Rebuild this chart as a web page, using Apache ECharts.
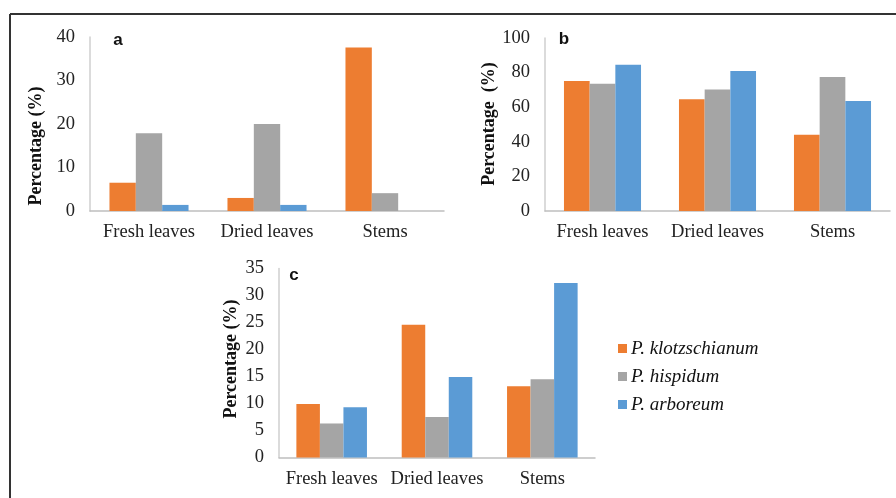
<!DOCTYPE html>
<html>
<head>
<meta charset="utf-8">
<script src="https://cdn.jsdelivr.net/npm/echarts@6/dist/echarts.min.js"></script>
<style>
  html, body { margin: 0; padding: 0; background: #fff; }
  #chart { width: 896px; height: 498px; }
</style>
</head>
<body>
<div id="chart"></div>
<script>
// data
var categories = ['Fresh leaves', 'Dried leaves', 'Stems'];
var speciesNames = ['P. klotzschianum', 'P. hispidum', 'P. arboreum'];
var colors = ['#ED7D31', '#A5A5A5', '#5B9BD5'];

// panel a
var aKlotz = [6.5, 3.0, 37.6];
var aHisp = [17.9, 20.0, 4.1];
var aArbor = [1.4, 1.4, 0];
// panel b
var bKlotz = [75.1, 64.6, 44.1];
var bHisp = [73.6, 70.3, 77.5];
var bArbor = [84.6, 80.9, 63.6];
// panel c
var cKlotz = [9.9, 24.6, 13.2];
var cHisp = [6.3, 7.5, 14.5];
var cArbor = [9.3, 14.9, 32.3];

var yMax = [40, 100, 35];
var yStep = [10, 20, 5];

var serif = '"Liberation Serif", "Times New Roman", serif';
var chart = echarts.init(document.getElementById('chart'));

var grids = [
    {left: 90, top: 37, width: 354, height: 174},
    {left: 545, top: 38, width: 345, height: 173},
    {left: 279, top: 268.5, width: 316, height: 189}
];

var xAxes = [], yAxes = [];
grids.forEach(function (g, i) {
    xAxes.push({
        type: 'category',
        gridIndex: i,
        data: categories,
        axisLine: {lineStyle: {color: '#bfbfbf', width: 1.5}},
        axisTick: {show: false},
        axisLabel: {interval: 0, color: '#222', fontFamily: serif, fontSize: 18.5, margin: 12}
    });
    yAxes.push({
        type: 'value',
        gridIndex: i,
        min: 0,
        max: yMax[i],
        interval: yStep[i],
        axisLine: {show: true, lineStyle: {color: '#cfcfcf', width: 1.5}},
        axisTick: {show: false},
        splitLine: {show: false},
        axisLabel: {color: '#222', fontFamily: serif, fontSize: 18.5, margin: 15}
    });
});

var panelData = [
    [aKlotz, aHisp, aArbor],
    [bKlotz, bHisp, bArbor],
    [cKlotz, cHisp, cArbor]
];
var series = [];
panelData.forEach(function (sets, i) {
    sets.forEach(function (vals, k) {
        series.push({
            name: speciesNames[k],
            type: 'bar',
            xAxisIndex: i,
            yAxisIndex: i,
            data: vals,
            barGap: '0%',
            barCategoryGap: '33%',
            itemStyle: {color: colors[k]},
            silent: true
        });
    });
});

function yTitle(x, y, txt) {
    return {
        type: 'text', x: x, y: y, rotation: Math.PI / 2,
        style: {text: txt, fontFamily: serif, fontSize: 18, fontWeight: 'bold', fill: '#111',
                align: 'center', verticalAlign: 'middle'}
    };
}
function panelTag(x, y, txt) {
    return {
        type: 'text', x: x, y: y,
        style: {text: txt, fontFamily: '"Liberation Sans", Arial, sans-serif', fontSize: 17,
                fontWeight: 'bold', fill: '#111', align: 'center', verticalAlign: 'middle'}
    };
}

var option = {
    animation: false,
    grid: grids,
    xAxis: xAxes,
    yAxis: yAxes,
    legend: {
        orient: 'vertical',
        left: 613,
        top: 334,
        data: speciesNames,
        icon: 'rect',
        itemWidth: 9,
        itemHeight: 9,
        itemGap: 9,
        textStyle: {fontFamily: serif, fontSize: 19, fontStyle: 'italic', color: '#111', padding: [0, 0, 0, -1]}
    },
    series: series,
    graphic: [
        {type: 'line', shape: {x1: 10, y1: 14, x2: 896, y2: 14}, style: {stroke: '#333', lineWidth: 2}},
        {type: 'line', shape: {x1: 10, y1: 14, x2: 10, y2: 498}, style: {stroke: '#333', lineWidth: 2}},
        yTitle(36, 146, 'Percentage (%)'),
        yTitle(489, 124, 'Percentage  (%)'),
        yTitle(231, 359, 'Percentage (%)'),
        panelTag(118, 40, 'a'),
        panelTag(564, 39, 'b'),
        panelTag(294, 275, 'c')
    ]
};
chart.setOption(option);
</script>
</body>
</html>
